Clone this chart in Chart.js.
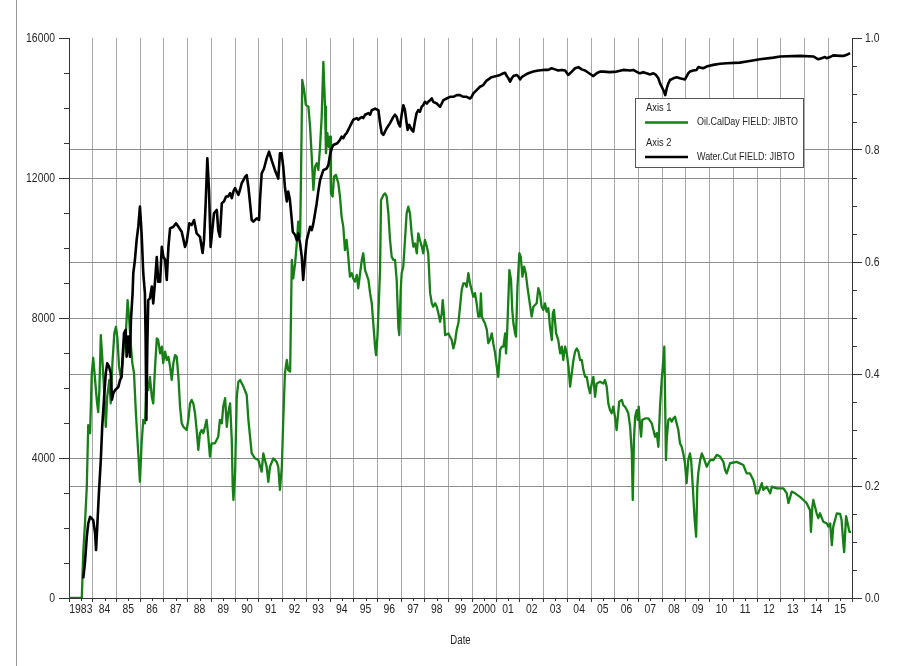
<!DOCTYPE html>
<html>
<head>
<meta charset="utf-8">
<title>JIBTO field: oil rate and water cut</title>
<script src="https://cdn.jsdelivr.net/npm/chart.js@4/dist/chart.umd.min.js"></script>
<style>
  html, body { margin: 0; padding: 0; background: #fff; }
  #wrap { position: relative; width: 903px; height: 666px; }
  canvas { display: block; }
</style>
</head>
<body>
<div id="wrap"><canvas id="c" width="903" height="666"></canvas></div>
<script>
// Year labels shown under each calendar year
const yearLabels = ['1983','84','85','86','87','88','89','90','91','92','93','94','95','96','97','98','99',
  '2000','01','02','03','04','05','06','07','08','09','10','11','12','13','14','15'];
const leftTickLabels = ['0', '4000', '8000', '12000', '16000'];
const rightTickLabels = ['0.0', '0.2', '0.4', '0.6', '0.8', '1.0'];
const axisNames = ['Axis 1', 'Axis 2'];
const seriesNames = ['Oil.CalDay FIELD: JIBTO', 'Water.Cut FIELD: JIBTO'];
const xTitle = 'Date';

// Oil calendar-day rate (decimal year, rate)
const oilDates = [1983.00,1983.54,1983.60,1983.67,1983.75,1983.81,1983.89,1983.96,1984.02,1984.10,1984.17,1984.23,1984.28,1984.34,1984.40,1984.48,1984.55,1984.61,1984.70,1984.76,1984.83,1984.91,1984.98,
  1985.04,1985.11,1985.18,1985.26,1985.33,1985.40,1985.47,1985.54,1985.60,1985.67,1985.74,1985.82,1985.92,1985.99,1986.06,1986.13,1986.20,1986.27,1986.34,1986.41,1986.49,1986.55,1986.62,1986.70,1986.76,1986.84,1986.91,1986.97,
  1987.05,1987.12,1987.19,1987.26,1987.33,1987.40,1987.47,1987.54,1987.61,1987.68,1987.75,1987.82,1987.96,1988.03,1988.10,1988.17,1988.24,1988.31,1988.38,1988.45,1988.52,1988.59,1988.66,1988.73,1988.80,1988.87,1988.94,
  1989.01,1989.15,1989.29,1989.36,1989.44,1989.50,1989.58,1989.65,1989.71,1989.79,1989.86,1989.90,1989.93,1990.00,1990.07,1990.14,1990.21,1990.35,1990.49,1990.56,1990.70,1990.84,1990.98,
  1991.12,1991.19,1991.33,1991.40,1991.47,1991.61,1991.75,1991.82,1991.89,1991.97,1992.03,1992.10,1992.18,1992.24,1992.32,1992.39,1992.45,1992.53,1992.60,1992.66,1992.74,1992.78,1992.83,1992.91,1992.98,
  1993.09,1993.16,1993.23,1993.30,1993.37,1993.44,1993.51,1993.58,1993.65,1993.72,1993.79,1993.83,1993.89,1993.95,1994.00,1994.04,1994.11,1994.17,1994.25,1994.35,1994.42,1994.49,1994.56,1994.63,1994.70,1994.77,1994.84,1994.92,1994.98,
  1995.05,1995.13,1995.19,1995.27,1995.34,1995.40,1995.48,1995.62,1995.69,1995.76,1995.90,1995.94,1996.00,1996.05,1996.11,1996.15,1996.25,1996.32,1996.39,1996.46,1996.53,1996.60,1996.67,1996.74,1996.81,1996.88,1996.92,1996.98,
  1997.02,1997.09,1997.16,1997.23,1997.30,1997.37,1997.44,1997.51,1997.58,1997.66,1997.72,1997.79,1997.87,1997.93,1998.00,1998.08,1998.14,1998.22,1998.29,1998.35,1998.43,1998.50,1998.57,1998.64,1998.71,1998.75,1998.81,1998.85,1998.99,
  1999.13,1999.20,1999.27,1999.34,1999.41,1999.48,1999.55,1999.62,1999.69,1999.76,1999.83,1999.90,1999.97,2000.04,2000.11,2000.18,2000.25,2000.32,2000.36,2000.40,2000.46,2000.53,2000.61,2000.67,2000.74,2000.82,2000.88,2000.96,
  2001.03,2001.09,2001.17,2001.24,2001.31,2001.38,2001.42,2001.47,2001.56,2001.63,2001.68,2001.73,2001.80,2001.84,2001.90,2001.98,2002.04,2002.11,2002.18,2002.25,2002.32,2002.40,2002.50,2002.57,2002.64,2002.71,2002.78,2002.85,2002.92,2002.99,
  2003.06,2003.13,2003.20,2003.27,2003.35,2003.39,2003.44,2003.53,2003.62,2003.70,2003.77,2003.83,2003.91,2003.98,2004.05,2004.12,2004.19,2004.26,2004.33,2004.40,2004.47,2004.54,2004.61,2004.68,2004.75,2004.82,2004.89,2004.96,
  2005.03,2005.10,2005.17,2005.24,2005.38,2005.52,2005.59,2005.66,2005.73,2005.80,2005.87,2005.94,2006.01,2006.08,2006.19,2006.30,2006.36,2006.43,2006.51,2006.57,2006.65,2006.72,2006.76,2006.81,2006.86,2006.93,2006.97,
  2007.01,2007.07,2007.11,2007.16,2007.28,2007.42,2007.56,2007.63,2007.70,2007.77,2007.84,2007.91,2007.98,2008.09,2008.16,2008.19,2008.26,2008.33,2008.40,2008.47,2008.54,2008.61,2008.68,2008.75,2008.82,2008.89,2008.96,
  2009.03,2009.10,2009.17,2009.22,2009.29,2009.36,2009.43,2009.48,2009.52,2009.60,2009.67,2009.73,2009.88,2010.02,2010.16,2010.30,2010.44,2010.58,2010.65,2010.72,2010.86,2011.14,2011.42,2011.56,2011.70,2011.84,2011.91,2011.96,
  2012.05,2012.20,2012.26,2012.41,2012.55,2012.62,2012.83,2013.11,2013.25,2013.32,2013.46,2013.60,2013.81,2013.95,2014.09,2014.23,2014.27,2014.33,2014.37,2014.51,2014.58,2014.65,2014.79,2014.94,
  2015.00,2015.08,2015.15,2015.21,2015.36,2015.50,2015.56,2015.64,2015.67,2015.75,2015.89,2015.96];
const oilRate = [0,0,1290,2090,3170,4940,4710,6430,6860,6230,5660,5310,5940,7510,6890,5940,4890,5750,6230,5560,6710,7560,7750,
  7420,6610,6320,6710,7370,7610,8510,7940,7280,6710,6420,5280,4130,3320,4420,5090,4990,6230,5940,6320,5750,5560,6510,7420,7370,6990,7180,6710,
  7040,6800,6890,6610,6230,6710,6940,6890,6320,5470,4990,4890,4800,5090,5560,5660,5560,5280,4800,4230,4710,4800,4710,4890,5090,4610,4040,
  4420,4420,4610,5090,4990,5470,5710,4890,5280,5560,4510,3180,2800,3560,5750,6180,6230,6040,5800,5090,4130,3990,3940,
  3610,4130,3750,3320,3750,3990,3890,3750,3090,3750,5090,6420,6800,6510,6470,9660,9130,9560,10130,10750,10320,12130,14800,14510,14090,
  14040,13470,12610,11660,12320,12420,12230,12890,13750,15320,14040,12710,13280,12890,13180,11560,11470,12040,12090,11850,11470,10890,10610,9940,10230,9750,9180,9280,9130,
  9040,9230,8850,9280,9660,9850,9370,9090,8710,8420,7180,6940,7470,8320,9370,11370,11510,11560,11470,10990,10230,9750,9660,9660,9090,7750,7510,8800,
  9280,9470,10230,10990,11180,10990,10420,10040,10130,9850,10420,10230,10040,9850,10230,10040,9850,8710,8420,8320,8420,8320,8130,7890,8130,8510,8040,7510,7560,
  7370,7130,7320,7660,7850,8320,8800,8990,8990,8890,9280,8990,8800,8610,8710,8420,8040,8050,8700,8040,7940,7850,7660,7280,7370,7560,7280,6990,
  6610,6320,7090,7180,7180,7560,6990,7660,9370,9090,8230,7850,7560,7470,8890,9850,9750,9180,9470,9280,8890,8510,8040,8320,8370,8420,8850,8710,8320,8230,
  8420,8180,8280,7750,7370,8130,8230,7560,7370,6990,7180,6800,7180,6990,6610,6040,6420,6800,7040,7130,7040,6800,6800,6510,6320,6320,6040,5850,
  6130,6320,5750,6130,6180,6130,6230,6040,5560,5370,5280,5470,5180,4800,5610,5660,5510,5470,5370,5280,4890,4130,2800,4510,5180,5370,5090,
  5470,4890,4610,5090,5130,5130,4990,4800,4610,4710,4320,5470,6230,7180,3940,4510,5090,5130,5040,5130,5180,4990,4800,4420,4320,4130,3850,
  3280,3940,4130,3940,3180,2320,1750,3180,3560,3940,4130,4040,3750,3940,3940,4090,4040,3890,3660,3560,3850,3890,3800,3560,3560,3370,3180,2990,
  2990,3280,3090,3180,2990,3180,3130,3130,2990,2710,3040,2990,2890,2800,2710,2510,1890,2610,2800,2420,2280,2420,2180,2130,
  2040,2130,1510,2040,2420,2400,2230,1510,1310,2340,1890,1890];

// Water cut fraction (decimal year, fraction)
const wcDates = [1983.60,1983.67,1983.75,1983.81,1983.89,1983.96,1984.02,1984.10,1984.14,1984.19,1984.26,1984.34,1984.40,1984.48,1984.55,1984.61,1984.69,1984.76,1984.81,1984.87,1984.94,
  1985.08,1985.15,1985.22,1985.26,1985.32,1985.39,1985.43,1985.50,1985.57,1985.61,1985.68,1985.71,1985.78,1985.85,1985.92,1985.99,1986.06,1986.13,1986.20,1986.23,1986.26,1986.30,1986.34,1986.41,1986.49,1986.55,1986.62,1986.70,1986.76,1986.84,1986.91,1986.98,
  1987.05,1987.12,1987.19,1987.26,1987.40,1987.51,1987.61,1987.75,1987.89,1987.96,1988.07,1988.17,1988.27,1988.38,1988.52,1988.63,1988.69,1988.76,1988.83,1988.90,1988.97,
  1989.04,1989.11,1989.23,1989.29,1989.36,1989.44,1989.53,1989.62,1989.71,1989.79,1989.86,1989.93,1990.00,1990.14,1990.21,1990.28,1990.35,1990.42,1990.49,1990.56,1990.63,1990.70,1990.77,1990.91,
  1991.01,1991.05,1991.12,1991.22,1991.33,1991.43,1991.54,1991.68,1991.82,1991.89,1991.96,1992.03,1992.10,1992.18,1992.24,1992.31,1992.39,1992.43,1992.53,1992.60,1992.66,1992.74,1992.81,1992.87,1992.95,
  1993.02,1993.09,1993.16,1993.23,1993.30,1993.37,1993.44,1993.51,1993.58,1993.65,1993.72,1993.86,1993.93,1994.00,1994.07,1994.14,1994.31,1994.42,1994.49,1994.56,1994.63,1994.70,1994.77,1994.84,1994.91,1994.98,
  1995.13,1995.19,1995.27,1995.34,1995.40,1995.48,1995.62,1995.69,1995.76,1995.90,1996.04,1996.11,1996.18,1996.25,1996.32,1996.39,1996.53,1996.67,1996.74,1996.81,1996.88,1996.95,
  1997.02,1997.09,1997.16,1997.23,1997.27,1997.34,1997.44,1997.51,1997.58,1997.65,1997.72,1997.79,1997.86,1997.93,1998.00,1998.08,1998.14,1998.22,1998.29,1998.35,1998.50,1998.64,1998.71,1998.78,1998.92,
  1999.06,1999.20,1999.34,1999.48,1999.62,1999.76,1999.90,1999.97,2000.04,2000.18,2000.32,2000.46,2000.60,2000.81,2001.02,2001.17,2001.31,2001.38,2001.45,2001.52,2001.59,2001.66,2001.73,2001.87,2001.94,
  2002.01,2002.08,2002.22,2002.36,2002.57,2002.78,2002.99,2003.20,2003.34,2003.48,2003.62,2003.77,2003.91,2004.04,2004.19,2004.33,2004.47,2004.61,2004.75,2004.89,2005.03,2005.10,2005.24,2005.38,2005.52,2005.80,
  2006.08,2006.36,2006.65,2006.78,2006.99,2007.07,2007.20,2007.34,2007.49,2007.63,2007.74,2007.84,2007.91,2007.98,2008.08,2008.13,2008.19,2008.26,2008.33,2008.47,2008.61,2008.75,2008.96,
  2009.10,2009.17,2009.31,2009.45,2009.52,2009.73,2009.87,2010.15,2010.44,2010.72,2011.27,2011.56,2012.12,2012.69,2012.97,2013.81,2014.37,2014.58,2014.72,2014.86,2014.93,2015.07,2015.21,2015.50,2015.64,2015.78,2015.92];
const wcFrac = [0.035,0.062,0.109,0.133,0.145,0.142,0.139,0.116,0.086,0.127,0.187,0.246,0.306,0.359,0.401,0.419,0.413,0.401,0.354,0.366,0.371,
  0.377,0.389,0.395,0.431,0.473,0.479,0.431,0.467,0.431,0.496,0.544,0.580,0.604,0.639,0.663,0.699,0.651,0.580,0.544,0.461,0.318,0.449,0.532,0.535,0.556,0.526,0.562,0.609,0.565,0.565,0.627,0.609,
  0.604,0.568,0.627,0.660,0.663,0.669,0.663,0.654,0.627,0.636,0.669,0.666,0.675,0.651,0.645,0.616,0.639,0.705,0.785,0.729,0.627,
  0.657,0.687,0.693,0.657,0.645,0.705,0.708,0.717,0.717,0.723,0.714,0.726,0.732,0.720,0.729,0.741,0.746,0.752,0.755,0.734,0.705,0.675,0.672,0.678,
  0.675,0.711,0.758,0.767,0.785,0.797,0.782,0.764,0.749,0.794,0.794,0.770,0.734,0.708,0.726,0.711,0.675,0.654,0.648,0.639,0.651,0.633,0.609,0.568,0.609,
  0.639,0.651,0.663,0.657,0.669,0.687,0.705,0.727,0.746,0.755,0.764,0.767,0.773,0.791,0.803,0.809,0.812,0.818,0.824,0.821,0.827,0.830,0.836,0.842,0.848,0.854,
  0.857,0.854,0.857,0.859,0.857,0.863,0.866,0.863,0.871,0.874,0.871,0.848,0.830,0.827,0.833,0.839,0.848,0.859,0.863,0.859,0.848,0.842,
  0.863,0.880,0.871,0.848,0.836,0.845,0.836,0.833,0.851,0.866,0.871,0.868,0.877,0.880,0.886,0.883,0.886,0.889,0.892,0.886,0.883,0.877,0.883,0.889,0.892,
  0.895,0.895,0.898,0.898,0.895,0.895,0.892,0.895,0.901,0.907,0.913,0.916,0.924,0.930,0.932,0.934,0.937,0.938,0.932,0.928,0.922,0.928,0.932,0.934,0.931,
  0.926,0.930,0.934,0.937,0.940,0.942,0.943,0.943,0.946,0.944,0.942,0.943,0.942,0.934,0.940,0.946,0.948,0.944,0.942,0.938,0.934,0.932,0.937,0.940,0.940,0.939,
  0.940,0.943,0.942,0.943,0.938,0.937,0.939,0.937,0.935,0.937,0.934,0.928,0.919,0.913,0.904,0.898,0.910,0.919,0.925,0.928,0.930,0.928,0.926,
  0.937,0.940,0.942,0.943,0.948,0.946,0.949,0.952,0.954,0.955,0.956,0.958,0.962,0.965,0.967,0.968,0.967,0.962,0.964,0.966,0.964,0.966,0.969,0.968,0.968,0.970,0.973];

const FONT = '"Liberation Sans", Arial, sans-serif';
const SQUEEZE = 0.8;          // horizontal compression of axis and key text
const OIL_COLOR = '#167f16';
const WC_COLOR = '#000000';
const TEXT = '#262626';
const VGRID = '#a8a8a8';
const HGRID = '#8e8e8e';
const CLEAR = 'rgba(0,0,0,0)';

const pairs = (xs, ys) => xs.map((x, i) => ({ x: x, y: ys[i] }));

// Draws a horizontally condensed text run anchored at (x, y)
function narrowText(ctx, text, x, y, align, baseline, sx) {
  ctx.save();
  ctx.translate(x, y);
  ctx.scale(sx, 1);
  ctx.textAlign = align;
  ctx.textBaseline = baseline;
  ctx.fillText(text, 0, 0);
  ctx.restore();
}

// Minor tick marks and condensed tick labels, positioned by the chart's scales
const axisDecor = {
  id: 'axisDecor',
  afterDraw(chart) {
    const { ctx, scales } = chart;
    const x = scales.x, y = scales.y, y2 = scales.y2;
    ctx.save();
    ctx.strokeStyle = '#333';
    ctx.lineWidth = 1;
    ctx.beginPath();
    for (let v = 1000; v < 16000; v += 1000) {
      if (v % 4000 === 0) continue;
      const py = Math.round(y.getPixelForValue(v)) + 0.5;
      ctx.moveTo(y.right - 5, py); ctx.lineTo(y.right, py);
    }
    for (let k = 1; k < 20; k++) {
      if (k % 4 === 0) continue;
      const py = Math.round(y2.getPixelForValue(k / 20)) + 0.5;
      ctx.moveTo(y2.left, py); ctx.lineTo(y2.left + 5, py);
    }
    for (let yr = 1983; yr < 2016; yr++) {
      const px = Math.round(x.getPixelForValue(yr + 0.5)) + 0.5;
      ctx.moveTo(px, x.top); ctx.lineTo(px, x.top + 3);
    }
    ctx.stroke();

    ctx.fillStyle = TEXT;
    ctx.font = '13px ' + FONT;
    yearLabels.forEach((lab, i) => {
      narrowText(ctx, lab, x.getPixelForValue(1983.5 + i), x.top + 15, 'center', 'alphabetic', SQUEEZE);
    });
    leftTickLabels.forEach((lab, i) => {
      narrowText(ctx, lab, y.right - 14, y.getPixelForValue(i * 4000), 'right', 'middle', SQUEEZE);
    });
    rightTickLabels.forEach((lab, i) => {
      narrowText(ctx, lab, y2.left + 13, y2.getPixelForValue(i * 0.2), 'left', 'middle', SQUEEZE);
    });
    ctx.font = '12px ' + FONT;
    narrowText(ctx, xTitle, (x.left + x.right) / 2, 641, 'center', 'middle', SQUEEZE);
    ctx.restore();
  }
};

// Boxed series key and the page frame line
const seriesKey = {
  id: 'seriesKey',
  afterDraw(chart) {
    const { ctx } = chart;
    ctx.save();
    ctx.strokeStyle = '#9a9a9a';
    ctx.lineWidth = 1;
    ctx.beginPath();
    ctx.moveTo(16.5, 0); ctx.lineTo(16.5, 666);
    ctx.stroke();

    const bx = 635.5, by = 98.5, bw = 168, bh = 69;
    ctx.fillStyle = '#fff';
    ctx.fillRect(bx, by, bw, bh);
    ctx.strokeStyle = '#555';
    ctx.strokeRect(bx, by, bw, bh);
    ctx.font = '11px ' + FONT;
    chart.data.datasets.forEach((ds, i) => {
      const top = by + 9.5 + i * 34.5;
      ctx.fillStyle = TEXT;
      narrowText(ctx, axisNames[i], 646, top, 'left', 'middle', 0.85);
      narrowText(ctx, ds.label, 697, top + 14, 'left', 'middle', 0.815);
      ctx.strokeStyle = ds.borderColor;
      ctx.lineWidth = 2.5;
      ctx.beginPath();
      ctx.moveTo(645, top + 14.5); ctx.lineTo(688, top + 14.5);
      ctx.stroke();
    });
    ctx.restore();
  }
};

new Chart(document.getElementById('c'), {
  type: 'line',
  data: {
    datasets: [
      {
        label: seriesNames[0],
        data: pairs(oilDates, oilRate),
        yAxisID: 'y',
        borderColor: OIL_COLOR,
        borderWidth: 2.3,
        pointRadius: 0,
        tension: 0,
        borderJoinStyle: 'round',
        order: 2
      },
      {
        label: seriesNames[1],
        data: pairs(wcDates, wcFrac),
        yAxisID: 'y2',
        borderColor: WC_COLOR,
        borderWidth: 2.6,
        pointRadius: 0,
        tension: 0,
        borderJoinStyle: 'round',
        order: 1
      }
    ]
  },
  options: {
    responsive: false,
    animation: false,
    devicePixelRatio: 1,
    events: [],
    layout: { padding: { top: 38, left: 0, right: 0, bottom: 0 } },
    plugins: { legend: { display: false }, tooltip: { enabled: false } },
    scales: {
      x: {
        type: 'linear',
        position: 'bottom',
        min: 1983,
        max: 2016,
        afterBuildTicks(s) {
          const t = [];
          for (let yr = 1983; yr <= 2016; yr++) {
            t.push({ value: yr });
            if (yr < 2016) t.push({ value: yr + 0.5 });
          }
          s.ticks = t;
        },
        afterFit(s) { s.height = 68; },
        ticks: { display: false, autoSkip: false },
        grid: {
          drawTicks: true,
          tickLength: 4,
          color: c => {
            const v = c.tick ? c.tick.value : 0;
            return (Number.isInteger(v) && v > 1983 && v < 2016) ? VGRID : CLEAR;
          },
          tickColor: c => (c.tick && Number.isInteger(c.tick.value)) ? '#333' : CLEAR
        },
        border: { display: true, color: '#333', width: 1 }
      },
      y: {
        type: 'linear',
        position: 'left',
        min: 0,
        max: 16000,
        afterBuildTicks(s) {
          const t = [];
          for (let v = 0; v <= 16000; v += 1000) t.push({ value: v });
          s.ticks = t;
        },
        afterFit(s) { s.width = 69; },
        ticks: { display: false, autoSkip: false },
        grid: {
          tickLength: 10,
          color: c => {
            const v = c.tick ? c.tick.value : 0;
            return (v % 4000 === 0 && v > 0 && v < 16000) ? HGRID : CLEAR;
          },
          tickColor: c => (c.tick && c.tick.value % 4000 === 0) ? '#333' : CLEAR
        },
        border: { display: true, color: '#333', width: 1 }
      },
      y2: {
        type: 'linear',
        position: 'right',
        min: 0,
        max: 1,
        afterBuildTicks(s) {
          const t = [];
          for (let k = 0; k <= 20; k++) t.push({ value: k / 20 });
          s.ticks = t;
        },
        afterFit(s) { s.width = 51; },
        ticks: { display: false, autoSkip: false },
        grid: {
          tickLength: 10,
          color: c => {
            const k = c.tick ? Math.round(c.tick.value * 20) : 0;
            return (k % 4 === 0 && k > 0 && k < 20) ? HGRID : CLEAR;
          },
          tickColor: c => (c.tick && Math.round(c.tick.value * 20) % 4 === 0) ? '#333' : CLEAR
        },
        border: { display: true, color: '#333', width: 1 }
      }
    }
  },
  plugins: [axisDecor, seriesKey]
});
</script>
</body>
</html>
